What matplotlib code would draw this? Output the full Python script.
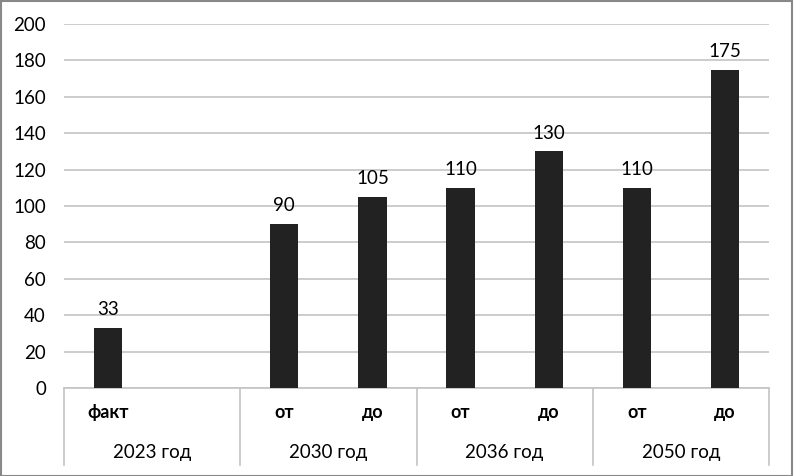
import numpy as np
import matplotlib.pyplot as plt
from matplotlib.patches import Rectangle

# data
sub_labels = ['факт', '', 'от', 'до', 'от', 'до', 'от', 'до']
values = [33, None, 90, 105, 110, 130, 110, 175]
groups = ['2023 год', '2030 год', '2036 год', '2050 год']

plt.rcParams['font.family'] = ['Lato', 'DejaVu Sans']

fig = plt.figure(figsize=(7.94, 4.76), dpi=100)
ax = fig.add_axes([64/794, 1-388/476, 705/794, 364/476])

x = np.array([i for i, v in enumerate(values) if v is not None])
h = np.array([v for v in values if v is not None])
bars = ax.bar(x, h, width=0.32, color='#222222', zorder=3)
ax.bar_label(bars, padding=7, fontsize=13.5)

ax.set_xlim(-0.5, len(values) - 0.5)
ax.set_ylim(0, 200)
ax.set_yticks(range(0, 201, 20))
ax.tick_params(axis='y', length=0, labelsize=13.5, pad=13)
ax.set_xticks([])
ax.grid(axis='y', color='#c4c4c4', linewidth=1.2, zorder=0)
for s in ['left', 'right', 'top']:
    ax.spines[s].set_visible(False)
ax.spines['bottom'].set_color('#c4c4c4')
ax.spines['bottom'].set_linewidth(1.2)

# two-level category axis
trans = ax.get_xaxis_transform()
for i, lab in enumerate(sub_labels):
    ax.text(i, -0.066, lab, transform=trans, ha='center', va='center', fontsize=13, fontweight='bold')
for g, name in enumerate(groups):
    ax.text(2*g + 0.5, -0.176, name, transform=trans, ha='center', va='center', fontsize=13.5)
for xs in np.arange(-0.5, len(values), 2):
    ax.plot([xs, xs], [0, -0.212], transform=trans, color='#c4c4c4', linewidth=1.2, clip_on=False)

fig.patches.append(Rectangle((0.001, 0.001), 0.997, 0.997, transform=fig.transFigure,
                             fill=False, edgecolor='#888888', linewidth=1.5))

fig.savefig('out.png', dpi=100)
